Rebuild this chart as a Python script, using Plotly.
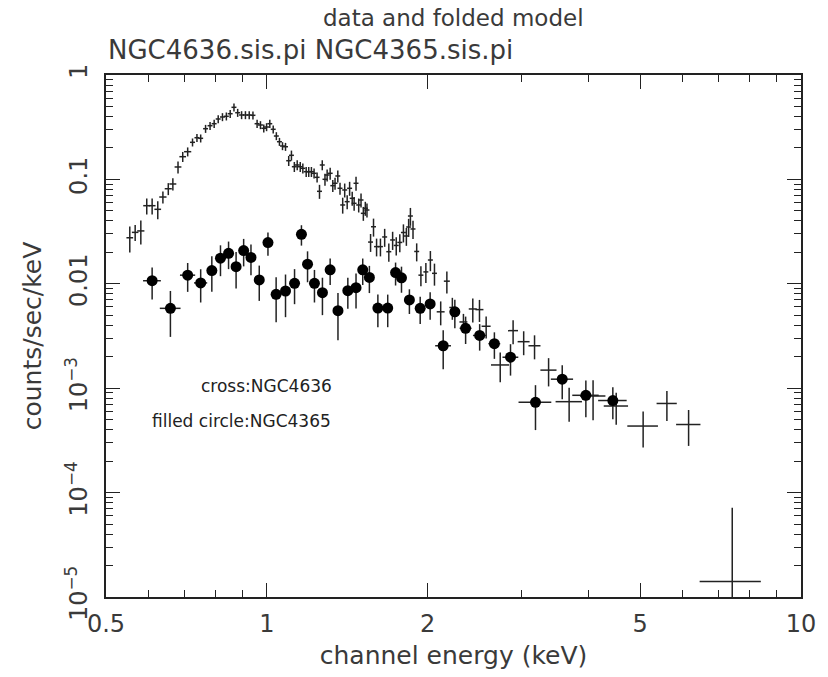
import plotly.graph_objects as go

# NGC4636 (crosses)
cross_x = [0.554,0.567,0.581,0.596,0.610,0.625,0.639,0.654,0.667,0.682,0.696,0.711,
           0.726,0.740,0.752,0.768,0.783,0.797,0.811,0.826,0.840,0.854,0.868,0.882,0.897,0.912,0.927,0.942,0.959,0.973,0.987,0.999,1.013,1.028,
           1.042,1.056,1.070,1.084,1.099,1.112,1.126,1.140,1.155,1.168,1.185,1.198,1.212,1.226,1.242,1.255,1.270,1.285,1.297,1.314,1.329,1.342,1.358,1.371,1.387,1.399,1.414,1.429,1.445,1.457,1.469,1.486,1.501,1.516,1.529,1.540,
           1.564,1.584,1.605,1.632,1.662,1.692,1.720,1.747,1.774,1.802,1.825,1.843,1.857,1.878,1.908,1.943,1.985,2.024,2.060,
           2.116,2.173,2.225,2.334,2.430,2.501,2.574,2.735,2.891,3.026,3.171,3.369,3.681,4.081,4.509,5.064,5.610,6.160,7.435]
cross_y = [0.0276,0.0311,0.0321,0.0560,0.0560,0.0517,0.0678,0.0814,0.0904,0.1315,0.1650,0.1842,
           0.2266,0.2508,0.2475,0.3059,0.3268,0.3416,0.3790,0.3961,0.4022,0.4258,0.4904,0.4353,0.4139,0.4139,0.4139,0.4111,0.3416,0.3320,0.3087,0.3176,0.3416,0.3019,
           0.2604,0.2296,0.2089,0.2056,0.1510,0.1701,0.1323,0.1374,0.1323,0.1277,0.1185,0.1185,0.1185,0.1144,0.1047,0.0769,0.1374,0.1002,0.1102,0.1144,0.0871,0.0918,0.1078,0.0822,0.0569,0.0792,0.0612,0.0822,0.0659,0.0590,0.0918,0.0569,0.0635,0.0473,0.0529,0.0509,
           0.0251,0.0352,0.0227,0.0227,0.0281,0.0203,0.0263,0.0233,0.0249,0.0310,0.0287,0.0350,0.0446,0.0335,0.0204,0.0121,0.0130,0.0169,0.0126,
           0.00539,0.0106,0.00593,0.00431,0.00574,0.00566,0.00392,0.00167,0.00356,0.00279,0.00255,0.00149,0.000743,0.000842,0.000675,0.000434,0.000714,0.000449,1.41e-5]
cross_yerr = [0.0077,0.0054,0.0083,0.0098,0.0098,0.0101,0.0089,0.0107,0.0119,0.0173,0.0182,0.0182,
              0.0199,0.0221,0.0218,0.0269,0.0288,0.0301,0.0334,0.0349,0.0354,0.0375,0.0432,0.0383,0.0364,0.0364,0.0364,0.0362,0.0301,0.0292,0.0272,0.0279,0.0301,0.0266,
              0.0229,0.0202,0.0184,0.0181,0.0166,0.0187,0.0146,0.0151,0.0146,0.0140,0.0130,0.0130,0.0130,0.0126,0.0115,0.0118,0.0151,0.0132,0.0145,0.0151,0.0115,0.0121,0.0142,0.0108,0.0099,0.0121,0.0094,0.0126,0.0101,0.0090,0.0140,0.0087,0.0097,0.0072,0.0081,0.0078,
              0.0049,0.0069,0.0044,0.0044,0.0055,0.0040,0.0052,0.0046,0.0049,0.0061,0.0056,0.0069,0.0087,0.0066,0.0040,0.0026,0.0028,0.0037,0.0030,
              0.00139,0.00252,0.00141,0.00084,0.00148,0.00135,0.00093,0.00053,0.00092,0.00072,0.00066,0.00045,0.000266,0.000349,0.000229,0.000164,0.000228,0.000169,5.76e-5]
cross_xerr = [0.008,0.008,0.009,0.009,0.009,0.009,0.010,0.010,0.010,0.010,0.010,0.011,
              0.0078,0.0079,0.0080,0.0082,0.0084,0.0085,0.0087,0.0088,0.0090,0.0091,0.0093,0.0094,0.0096,0.0098,0.0099,0.0101,0.0103,0.0104,0.0106,0.0107,0.0108,0.0110,
              0.0111,0.0113,0.0114,0.0116,0.0118,0.0119,0.0120,0.0122,0.0124,0.0125,0.0127,0.0128,0.0130,0.0131,0.0133,0.0134,0.0136,0.0137,0.0139,0.0141,0.0142,0.0144,0.0145,0.0147,0.0148,0.0150,0.0151,0.0153,0.0155,0.0156,0.0157,0.0159,0.0161,0.0162,0.0164,0.0165,
              0.0167,0.0169,0.0172,0.0175,0.0178,0.0181,0.0184,0.0187,0.0190,0.0193,0.0195,0.0197,0.0199,0.0201,0.0204,0.0208,0.0212,0.0217,0.0220,
              0.036,0.028,0.029,0.040,0.042,0.043,0.050,0.107,0.062,0.078,0.082,0.117,0.209,0.223,0.236,0.334,0.244,0.323,0.975]

# NGC4365 (filled circles)
circ_x = [0.610,0.660,0.711,0.752,0.789,0.819,0.848,0.876,0.905,0.934,0.968,1.005,1.041,1.084,1.127,1.161,1.192,1.228,1.271,1.314,1.359,
          1.418,1.469,1.512,1.556,1.614,1.684,1.742,1.787,1.849,1.937,2.022,2.139,2.249,2.356,2.503,2.667,2.859,3.184,3.573,3.956,4.444]
circ_y = [0.0107,0.00582,0.0121,0.0102,0.0134,0.0176,0.0196,0.0146,0.0208,0.0179,0.0109,0.0248,0.00793,0.00853,0.0101,0.0298,0.0154,0.0101,0.00822,0.0136,0.00553,
          0.00859,0.00918,0.0136,0.0115,0.00586,0.00586,0.0128,0.0114,0.00700,0.00582,0.00641,0.00255,0.00539,0.00375,0.00320,0.00267,0.00198,0.000733,0.00122,0.000855,0.000762]
circ_yerr = [0.00361,0.00272,0.00373,0.00358,0.00499,0.00577,0.00578,0.00558,0.00612,0.00583,0.00404,0.00624,0.00364,0.00374,0.00372,0.00659,0.00506,0.00348,0.00321,0.00386,0.00265,
             0.00283,0.00338,0.00386,0.00335,0.00202,0.00202,0.00317,0.00319,0.00186,0.00171,0.00188,0.00103,0.00163,0.00110,0.00091,0.00076,0.00066,0.000336,0.000436,0.000327,0.000258]
circ_xerr = [0.0234,0.0295,0.0233,0.0214,0.0134,0.0139,0.0144,0.0149,0.0154,0.0159,0.0165,0.0171,0.0177,0.0184,0.0192,0.0197,0.0203,0.0209,0.0216,0.0223,0.0231,
             0.0241,0.0250,0.0257,0.0264,0.0274,0.0286,0.0296,0.0304,0.0314,0.0329,0.0344,0.0728,0.0479,0.0602,0.0714,0.0681,0.0974,0.2245,0.171,0.225,0.273]

x_tickvals = [0.5, 1, 2, 5, 10]
x_ticktext = ["0.5", "1", "2", "5", "10"]
y_tickvals = [1e-5, 1e-4, 1e-3, 0.01, 0.1, 1]
y_ticktext = ["10<sup>−5</sup>", "10<sup>−4</sup>", "10<sup>−3</sup>", "0.01", "0.1", "1"]

x_minor = [0.6, 0.7, 0.8, 0.9, 3, 4, 6, 7, 8, 9]
y_minor = [m * 10.0 ** e for e in range(-5, 0) for m in range(2, 10)]

FONT = "DejaVu Sans"
INK = "#222222"
TXT = "#3a3a3a"

fig = go.Figure()
fig.add_trace(go.Scatter(
    x=cross_x, y=cross_y, mode="markers",
    marker=dict(size=1, color=INK, opacity=0),
    error_x=dict(type="data", array=cross_xerr, color=INK, thickness=1.5, width=0),
    error_y=dict(type="data", array=cross_yerr, color=INK, thickness=1.5, width=0),
    showlegend=False, hoverinfo="skip"))
fig.add_trace(go.Scatter(
    x=circ_x, y=circ_y, mode="markers",
    marker=dict(size=11, color="black"),
    error_x=dict(type="data", array=circ_xerr, color=INK, thickness=1.5, width=0),
    error_y=dict(type="data", array=circ_yerr, color=INK, thickness=1.5, width=0),
    showlegend=False, hoverinfo="skip"))

axis_common = dict(
    showgrid=False, zeroline=False, showline=True, linecolor=INK, linewidth=1.5,
    mirror="allticks", ticks="inside", ticklen=14, tickwidth=1, tickcolor=INK,
    tickfont=dict(family=FONT, size=24, color=TXT),
)

fig.update_xaxes(type="log", range=[-0.30103, 1.0], tickmode="array",
                 tickvals=x_tickvals, ticktext=x_ticktext, ticklabelstandoff=4,
                 minor=dict(tickmode="array", tickvals=x_minor, ticks="inside", ticklen=7, tickcolor=INK, tickwidth=1),
                 title=dict(text="channel energy (keV)", font=dict(family=FONT, size=25, color=TXT), standoff=10),
                 **axis_common)
fig.update_yaxes(type="log", range=[-5, 0], tickmode="array",
                 tickvals=y_tickvals, ticktext=y_ticktext, tickangle=-90, ticklabelstandoff=8,
                 minor=dict(tickmode="array", tickvals=y_minor, ticks="inside", ticklen=7, tickcolor=INK, tickwidth=1),
                 title=dict(text="counts/sec/keV", font=dict(family=FONT, size=25, color=TXT), standoff=12),
                 **axis_common)

fig.update_layout(
    width=828, height=677,
    margin=dict(l=106, r=18, t=75, b=80),
    paper_bgcolor="white", plot_bgcolor="white",
    annotations=[
        dict(text="data and folded model", xref="paper", yref="paper", x=0.5, y=1.0, yshift=57,
             xanchor="center", yanchor="middle", showarrow=False,
             font=dict(family=FONT, size=23, color=TXT)),
        dict(text="NGC4636.sis.pi NGC4365.sis.pi", xref="paper", yref="paper", x=0.0, y=1.0, yshift=25,
             xanchor="left", yanchor="middle", showarrow=False,
             font=dict(family=FONT, size=26, color=TXT)),
        dict(text="cross:NGC4636", xref="paper", yref="paper", x=0.134, y=0.4042,
             xanchor="left", yanchor="middle", showarrow=False,
             font=dict(family=FONT, size=17, color="#222222")),
        dict(text="filled circle:NGC4365", xref="paper", yref="paper", x=0.063, y=0.3372,
             xanchor="left", yanchor="middle", showarrow=False,
             font=dict(family=FONT, size=17, color="#222222")),
    ],
)

fig.write_html("out.html")
